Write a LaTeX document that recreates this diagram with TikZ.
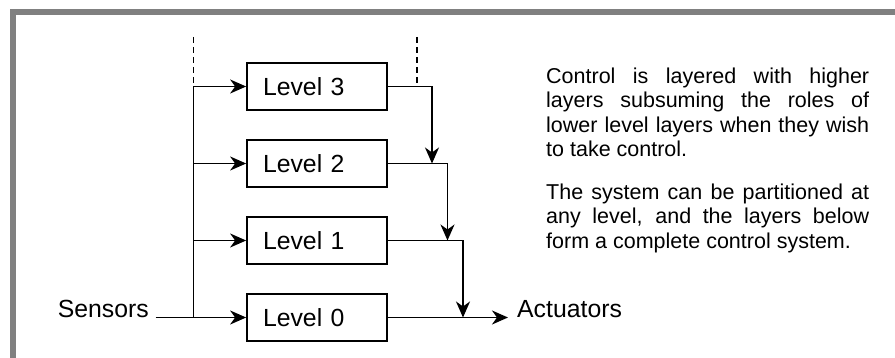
\documentclass[tikz,border=0pt]{standalone}
\usepackage{fontspec}
\setmainfont{Liberation Sans}
\usetikzlibrary{arrows.meta}
\definecolor{framegray}{HTML}{808080}
\begin{document}
\begin{tikzpicture}[x=1pt,y=-1pt,
  wire/.style={line width=1.7pt},
  tip/.style={-{Stealth[length=16pt,width=14pt,inset=5pt]}},
  dashwire/.style={line width=1.7pt, dash pattern=on 6.5pt off 3.5pt},
  levelbox/.style={draw, line width=1.7pt, minimum width=140pt, minimum height=47pt,
    inner xsep=16pt, inner ysep=0pt, text width=108pt, align=left,
    font=\fontsize{24.8}{28}\selectfont},
  tag/.style={inner sep=0pt, font=\fontsize{24.8}{28}\selectfont},
  note/.style={inner sep=0pt, align=left, anchor=north west,
    font=\fontsize{21.5}{24.5}\selectfont}
]
\useasboundingbox (0,0) rectangle (895,358);

% frame edges
\fill[framegray] (10,9) rectangle (895,15);
\fill[framegray] (10,9) rectangle (16,358);

% control levels
\node[levelbox] (l3) at (317,86.5) {Level 3};
\node[levelbox] (l2) at (317,163.5) {Level 2};
\node[levelbox] (l1) at (317,240.5) {Level 1};
\node[levelbox] (l0) at (317,317.5) {Level 0};

\node[tag, anchor=base east] (sens) at (149,317.5) {Sensors};
\node[tag, anchor=base west] (act) at (517,317.5) {Actuators};

% input bus
\coordinate (busTop) at (193.5,37);
\coordinate (busIn) at (155.7,317.5);
\draw[dashwire] (busTop) -- (busTop |- l3.west);
\draw[wire] (busTop |- l3.west) -- (busTop |- l0.west);
\draw[wire,tip] (busTop |- l3.west) -- (l3.west);
\draw[wire,tip] (busTop |- l2.west) -- (l2.west);
\draw[wire,tip] (busTop |- l1.west) -- (l1.west);
\draw[wire,tip] (busIn) -- (l0.west);

% output cascade
\coordinate (outTop) at (416.7,37);
\coordinate (j3) at (432,163.5);
\coordinate (j2) at (447.5,240.5);
\coordinate (j1) at (463,317.5);
\coordinate (actTip) at (508,317.5);
\draw[dashwire] (outTop) -- (outTop |- l3.east);
\draw[wire,tip] (l3.east) -| (j3);
\draw[wire,tip] (l2.east) -| (j2);
\draw[wire,tip] (l1.east) -| (j1);
\draw[wire,tip] (l0.east) -- (actTip);

% explanatory notes
\node[note] (p1) at (546,67.4) {%
\makebox[323pt][s]{Control is layered with higher}\\
\makebox[323pt][s]{layers subsuming the roles of}\\
\makebox[323pt][s]{lower level layers when they wish}\\
to take control.};
\node[note] (p2) at (546,183.4) {%
\makebox[323pt][s]{The system can be partitioned at}\\
\makebox[323pt][s]{any level, and the layers below}\\
form a complete control system.};
\end{tikzpicture}
\end{document}
